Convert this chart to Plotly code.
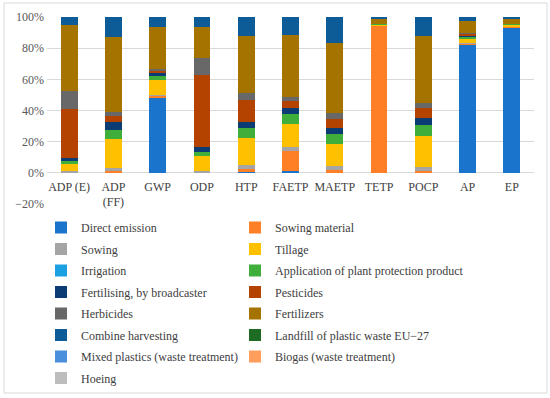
import plotly.graph_objects as go

categories = ["ADP (E)", "ADP (FF)", "GWP", "ODP", "HTP", "FAETP", "MAETP", "TETP", "POCP", "AP", "EP"]
tick_labels = ["ADP (E)", "ADP<br>(FF)", "GWP", "ODP", "HTP", "FAETP", "MAETP", "TETP", "POCP", "AP", "EP"]

# Shares of each process in each impact category (%)
direct_emission   = [0.0, 0.0, 48.2, 0.0, 0.5, 1.2, 0.0, 0.0, 0.0, 82.6, 93.3]
sowing_material   = [0.5, 1.0, 1.2, 0.5, 2.0, 13.0, 2.0, 94.6, 1.0, 0.6, 0.3]
sowing            = [0.4, 2.0, 0.8, 1.0, 2.5, 2.1, 2.2, 0.0, 2.5, 0.3, 0.0]
tillage           = [4.7, 18.8, 9.3, 9.5, 17.5, 15.0, 14.6, 0.5, 20.3, 3.0, 1.7]
irrigation        = [0.0, 0.0, 0.0, 0.0, 0.0, 0.0, 0.0, 0.0, 0.0, 0.0, 0.0]
application_ppp   = [2.6, 5.4, 2.5, 2.6, 6.5, 6.5, 6.0, 0.3, 6.9, 0.9, 0.3]
fertilising_broad = [1.2, 5.2, 2.3, 2.8, 3.5, 3.6, 4.1, 0.0, 4.7, 1.0, 0.2]
pesticides        = [31.4, 3.9, 1.5, 46.5, 14.5, 4.7, 5.5, 0.0, 6.4, 1.2, 0.0]
herbicides        = [11.8, 2.6, 1.0, 11.0, 4.0, 2.8, 3.7, 0.0, 3.2, 0.3, 0.0]
fertilizers       = [42.0, 48.0, 27.0, 19.4, 37.0, 39.3, 45.1, 3.8, 42.8, 7.7, 3.3]
combine_harvest   = [5.4, 13.1, 6.2, 6.7, 12.0, 11.8, 16.8, 0.8, 12.2, 2.4, 0.9]
landfill_plastic  = [0.0, 0.0, 0.0, 0.0, 0.0, 0.0, 0.0, 0.0, 0.0, 0.0, 0.0]
mixed_plastics    = [0.0, 0.0, 0.0, 0.0, 0.0, 0.0, 0.0, 0.0, 0.0, 0.0, 0.0]
biogas            = [0.0, 0.0, 0.0, 0.0, 0.0, 0.0, 0.0, 0.0, 0.0, 0.0, 0.0]
hoeing            = [0.0, 0.0, 0.0, 0.0, 0.0, 0.0, 0.0, 0.0, 0.0, 0.0, 0.0]

series_names = ["Direct emission", "Sowing material", "Sowing", "Tillage", "Irrigation",
                "Application of plant protection product", "Fertilising, by broadcaster",
                "Pesticides", "Herbicides", "Fertilizers", "Combine harvesting",
                "Landfill of plastic waste EU\u221227", "Mixed plastics (waste treatment)",
                "Biogas (waste treatment)", "Hoeing"]
series_values = [direct_emission, sowing_material, sowing, tillage, irrigation,
                 application_ppp, fertilising_broad, pesticides, herbicides, fertilizers,
                 combine_harvest, landfill_plastic, mixed_plastics, biogas, hoeing]
series_colors = ["#1A74CC", "#FF7F27", "#A5A5A5", "#FFC000", "#1BA1E2",
                 "#40AE3A", "#0B3D74", "#B54300", "#686868", "#A47300",
                 "#0D5C98", "#1E6B23", "#4A8FDB", "#FF9D5C", "#BDBDBD"]

FONT = "Liberation Serif"

fig = go.Figure()
for i, (name, vals, col) in enumerate(zip(series_names, series_values, series_colors)):
    fig.add_trace(go.Bar(x=categories, y=vals, name=name, marker_color=col,
                         marker_line_width=0, legendgroup=f"g{i}",
                         legend="legend" if i % 2 == 0 else "legend2"))

W, H = 550, 398
l, r, t, b = 47, 16, 17, 194
pw, ph = W - l - r, H - t - b

def px_x(x):
    return (x - l) / pw

def px_y(y):
    return (H - b - y) / ph

fig.add_shape(type="rect", xref="paper", yref="paper",
              x0=px_x(4), x1=px_x(547), y0=px_y(393), y1=px_y(3),
              line=dict(color="#D9D9D9", width=1), fillcolor="rgba(0,0,0,0)", layer="below")

legend_common = dict(orientation="v", traceorder="grouped", tracegroupgap=2.5,
                     yanchor="top", xanchor="left",
                     font=dict(size=12, color="#404040", family=FONT),
                     itemwidth=30, bgcolor="rgba(0,0,0,0)")

fig.update_layout(
    width=W, height=H,
    margin=dict(l=l, r=r, t=t, b=b, autoexpand=False),
    barmode="stack",
    bargap=0.62,
    plot_bgcolor="white", paper_bgcolor="white",
    font=dict(family=FONT, size=11, color="#595959"),
    xaxis=dict(tickmode="array", tickvals=categories, ticktext=tick_labels,
               anchor="free", position=20 / 120, showline=False, showgrid=False,
               ticks="", ticklabelstandoff=5, automargin=False,
               tickfont=dict(size=12, color="#404040", family=FONT)),
    yaxis=dict(range=[-20, 100], dtick=20, ticksuffix="%", showgrid=True,
               gridcolor="#D9D9D9", gridwidth=1, zeroline=True, zerolinecolor="#D9D9D9",
               zerolinewidth=1, showline=False, ticks="", ticklabelstandoff=2,
               automargin=False,
               tickfont=dict(size=12, color="#595959", family=FONT)),
    showlegend=True,
    legend=dict(x=px_x(41), y=px_y(213), **legend_common),
    legend2=dict(x=px_x(235), y=px_y(213), **legend_common),
)

fig.write_html("out.html", config={"displayModeBar": False},
               post_script="document.body.style.margin='0';document.body.style.overflow='hidden';")
